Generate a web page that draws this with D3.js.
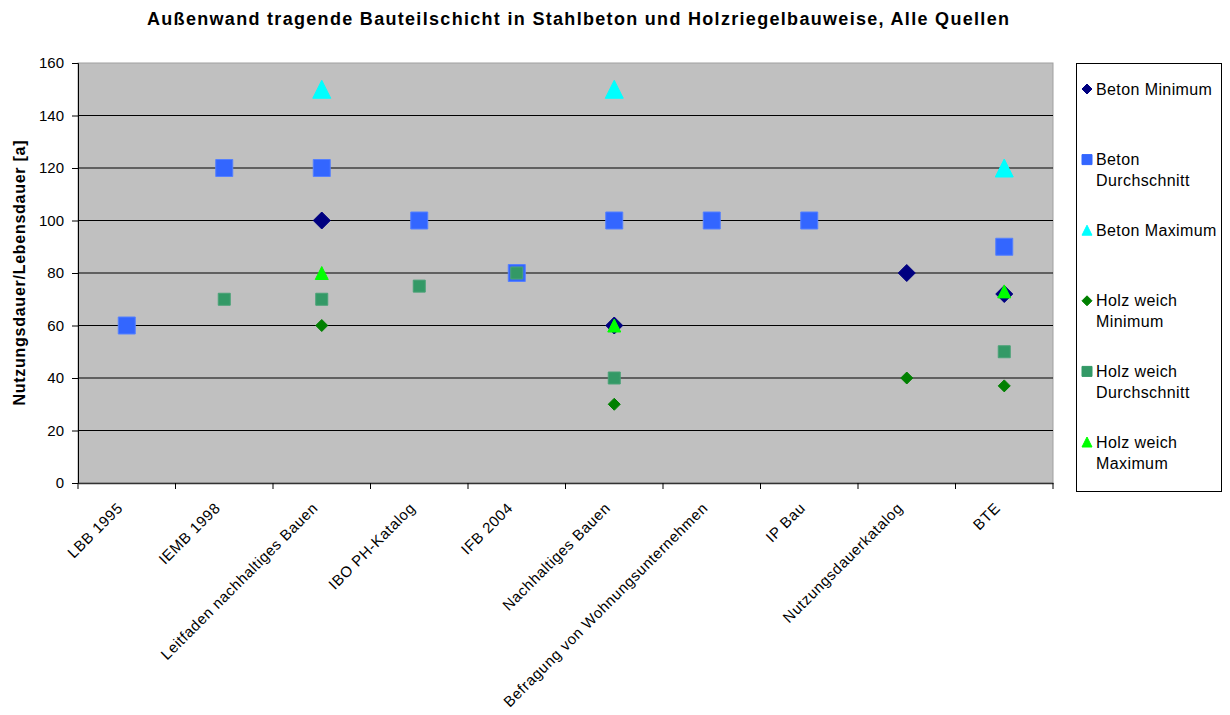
<!DOCTYPE html>
<html><head><meta charset="utf-8">
<script src="https://cdn.jsdelivr.net/npm/d3@7"></script>
<style>body{margin:0;background:#fff;} text{font-family:"Liberation Sans",Arial,sans-serif;}</style>
</head><body>
<svg id="c" width="1230" height="715"></svg>
<script>
const categories = ["LBB 1995","IEMB 1998","Leitfaden nachhaltiges Bauen","IBO PH-Katalog","IFB 2004","Nachhaltiges Bauen","Befragung von Wohnungsunternehmen","IP Bau","Nutzungsdauerkatalog","BTE"];
const betonMin   = [null,null,100,null,null,60,null,null,80,72];
const betonAvg   = [60,120,120,100,80,100,100,100,null,90];
const betonMax   = [null,null,150,null,null,150,null,null,null,120];
const holzMin    = [null,null,60,null,null,30,null,null,40,37];
const holzAvg    = [null,70,70,75,80,40,null,null,null,50];
const holzMax    = [null,null,80,null,null,60,null,null,null,73];
const yTicks = [0,20,40,60,80,100,120,140,160];
const seriesNames = ["Beton Minimum","Beton Durchschnitt","Beton Maximum","Holz weich Minimum","Holz weich Durchschnitt","Holz weich Maximum"];

const series = [
  {name:seriesNames[0], values:betonMin, shape:"diamond", size:17, color:"#000080", stroke:"#000080"},
  {name:seriesNames[1], values:betonAvg, shape:"square", size:17, color:"#3366FF", stroke:"#5580ff"},
  {name:seriesNames[2], values:betonMax, shape:"triangle", size:18, color:"#00FFFF", stroke:"#00FFFF"},
  {name:seriesNames[3], values:holzMin, shape:"diamond", size:12, color:"#008000", stroke:"#008000"},
  {name:seriesNames[4], values:holzAvg, shape:"square", size:12, color:"#339966", stroke:"#4aa277"},
  {name:seriesNames[5], values:holzMax, shape:"triangle", size:13, color:"#00FF00", stroke:"#00FF00"}
];

const svg = d3.select("#c");
const L=78, R=1053, T=63, B=483;
const x = d3.scaleBand().domain(categories).range([L,R]).padding(0);
const y = d3.scaleLinear().domain([0,160]).range([B,T]);

function shapePath(shape, s){
  const h=s/2;
  if(shape==="square") return `M${-h},${-h}H${h}V${h}H${-h}Z`;
  if(shape==="diamond") return `M0,${-h}L${h},0L0,${h}L${-h},0Z`;
  return `M0,${-h}L${h},${h}L${-h},${h}Z`;
}

// title
svg.append("text").attr("x",578).attr("y",25).attr("text-anchor","middle")
  .attr("font-size",18).attr("font-weight","bold")
  .attr("textLength",862).attr("lengthAdjust","spacing")
  .text("Außenwand tragende Bauteilschicht in Stahlbeton und Holzriegelbauweise, Alle Quellen");

// plot bg
svg.append("rect").attr("x",L).attr("y",T).attr("width",R-L).attr("height",B-T)
  .attr("fill","#C0C0C0").attr("stroke","#a0a0a0").attr("stroke-width",1);

// grid
svg.append("g").selectAll("line").data(yTicks.filter(d=>d>0&&d<160)).join("line")
  .attr("x1",L).attr("x2",R).attr("y1",d=>y(d)).attr("y2",d=>y(d))
  .attr("stroke","#000").attr("stroke-width",1);

// y axis
const ya = svg.append("g").attr("transform",`translate(${L},0)`)
  .call(d3.axisLeft(y).tickValues(yTicks).tickSize(6).tickPadding(8));
ya.selectAll("text").attr("font-size",15).attr("fill","#000").style("font-family","Liberation Sans, Arial, sans-serif");
ya.selectAll("line,path").attr("stroke","#000");

// x axis
const xa = svg.append("g").attr("transform",`translate(0,${B})`)
  .call(d3.axisBottom(x).tickSize(0).tickFormat(""));
xa.select("path").attr("stroke","#333").attr("stroke-width",1.5);
const boundaries = categories.map(c=>x(c)).concat([R]);
svg.append("g").selectAll("line").data(boundaries).join("line")
  .attr("x1",d=>d).attr("x2",d=>d).attr("y1",B).attr("y2",B+6).attr("stroke","#000");
svg.append("g").selectAll("text").data(categories).join("text")
  .attr("transform",d=>`translate(${x(d)+x.bandwidth()/2-3},${B+26}) rotate(-45)`)
  .attr("text-anchor","end").attr("font-size",15).attr("letter-spacing","0.6px").attr("fill","#000").text(d=>d);

// y label
svg.append("text").attr("transform",`translate(25,${273}) rotate(-90)`)
  .attr("text-anchor","middle").attr("font-size",16).attr("font-weight","bold")
  .attr("textLength",265).attr("lengthAdjust","spacing")
  .text("Nutzungsdauer/Lebensdauer [a]");

// points
series.forEach(s=>{
  const pts = categories.map((c,i)=>({c,v:s.values[i]})).filter(d=>d.v!=null);
  svg.append("g").selectAll("path").data(pts).join("path")
    .attr("d",shapePath(s.shape,s.size))
    .attr("transform",d=>`translate(${x(d.c)+x.bandwidth()/2},${y(d.v)})`)
    .attr("fill",s.color).attr("stroke",s.stroke).attr("stroke-width",1);
});

// legend
const lg = svg.append("g");
lg.append("rect").attr("x",1076.5).attr("y",63.5).attr("width",145).attr("height",428)
  .attr("fill","#fff").attr("stroke","#000").attr("stroke-width",1);
const legendLines = [["Beton Minimum"],["Beton","Durchschnitt"],["Beton Maximum"],["Holz weich","Minimum"],["Holz weich","Durchschnitt"],["Holz weich","Maximum"]];
series.forEach((s,i)=>{
  const yy = 89 + i*70.6;
  lg.append("path").attr("d",shapePath(s.shape,10)).attr("transform",`translate(1087,${yy})`)
    .attr("fill",s.color).attr("stroke",s.color);
  const t = lg.append("text").attr("x",1096).attr("y",yy+5.5).attr("font-size",16).attr("letter-spacing","0.4px").attr("fill","#000");
  legendLines[i].forEach((ln,j)=>t.append("tspan").attr("x",1096).attr("dy",j?21:0).text(ln));
});
</script>
</body></html>
